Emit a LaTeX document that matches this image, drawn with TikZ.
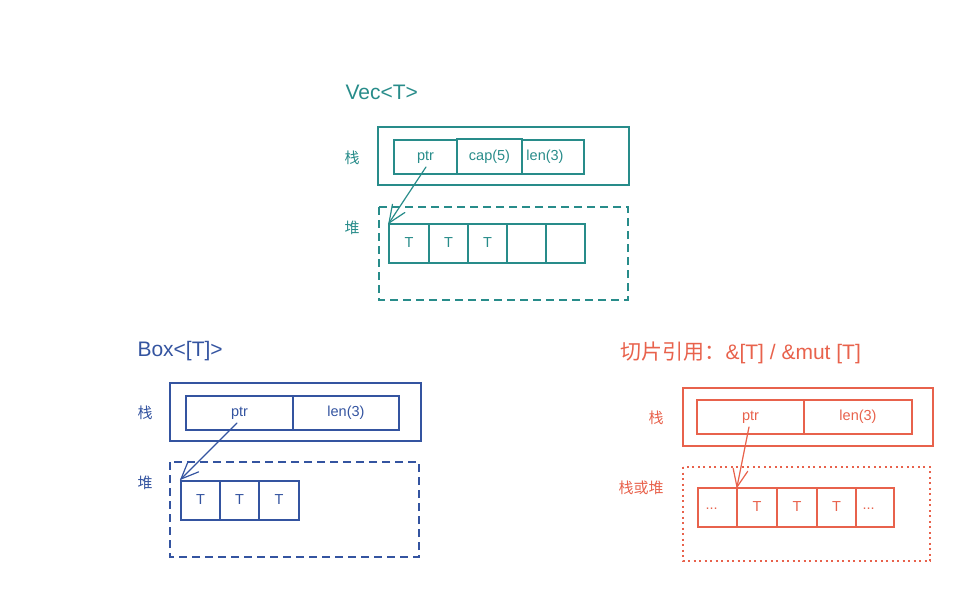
\documentclass[tikz,border=0pt]{standalone}
\usepackage{fontspec}
\setmainfont{Liberation Sans}
\newfontfamily\cjk{Noto Sans CJK SC}
\usetikzlibrary{calc}
\definecolor{tealc}{RGB}{40,140,138}
\definecolor{bluec}{RGB}{52,84,160}
\definecolor{redc}{RGB}{232,98,76}
\tikzset{
  frame/.style={draw, line width=1.5pt},
  cell/.style={draw, line width=1.5pt},
  heapbox/.style={draw, line width=1.5pt, dash pattern=on 8pt off 5pt},
  dotbox/.style={draw, line width=1.6pt, dash pattern=on 2pt off 3.5pt},
  ptrline/.style={line width=1.2pt, line cap=round},
  celltext/.style={font=\fontsize{14.5}{16}\selectfont},
  sidetext/.style={font=\cjk\fontsize{15}{17}\selectfont},
  titletext/.style={font=\fontsize{21}{24}\selectfont, anchor=west}
}
\newcommand\myptr[2]{%
  \draw[ptrline] (#1) -- (#2);
  \draw[ptrline] ($(#2)!19pt!23:(#1)$) -- (#2) -- ($(#2)!19pt!-23:(#1)$);
}
\begin{document}
\begin{tikzpicture}[x=1pt,y=-1pt]
\useasboundingbox (0,0) rectangle (974,591);
% ---------------- Vec<T> ----------------
\begin{scope}[color=tealc]
\node[titletext, text=tealc] (vt) at (342,92) {Vec<T>};
\draw[frame] (378,127) rectangle (629,185);
\node[sidetext, text=tealc] (vs) at (352,158) {栈};
\node[sidetext, text=tealc] (vh) at (352,228) {堆};
\draw[cell] (394,140) rectangle (457,174);
\draw[cell] (457,139) rectangle (522,174);
\draw[cell] (522,140) rectangle (584,174);
\node[celltext, text=tealc] (vptr) at (425.5,157) {ptr};
\node[celltext, text=tealc] (vcap) at (489.5,157) {cap(5)};
\node[celltext, text=tealc] (vlen) at (545,157) {len(3)};
\draw[heapbox] (379,207) rectangle (628,300);
\foreach \a/\b/\t [count=\i] in {389/429/T,429/468/T,468/507/T,507/546/,546/585/}{
  \draw[cell] (\a,224) rectangle (\b,263);
  \node[celltext, text=tealc] (vc\i) at ({(\a+\b)/2},243) {\t};
}
\coordinate (vs0) at (426,167);
\coordinate (vtip) at (389,223);
\myptr{vs0}{vtip}
\end{scope}
% ---------------- Box<[T]> ----------------
\begin{scope}[color=bluec]
\node[titletext, text=bluec] (bt) at (134,351) {Box<[T]>};
\draw[frame] (170,383) rectangle (421,441);
\node[sidetext, text=bluec] (bs) at (145,413) {栈};
\node[sidetext, text=bluec] (bh) at (145,483) {堆};
\draw[cell] (186,396) rectangle (293,430);
\draw[cell] (293,396) rectangle (399,430);
\node[celltext, text=bluec] (bptr) at (239.5,413) {ptr};
\node[celltext, text=bluec] (blen) at (346,413) {len(3)};
\draw[heapbox] (170,462) rectangle (419,557);
\foreach \a/\b [count=\i] in {181/220,220/259,259/299}{
  \draw[cell] (\a,481) rectangle (\b,520);
  \node[celltext, text=bluec] (bc\i) at ({(\a+\b)/2},500) {T};
}
\coordinate (bs0) at (237,423);
\coordinate (btip) at (181,479);
\myptr{bs0}{btip}
\end{scope}
% ---------------- slice ----------------
\begin{scope}[color=redc]
\node[titletext, text=redc] (st) at (617,353) {{\cjk 切片引用：}\&[T] / \&mut [T]};
\draw[frame] (683,388) rectangle (933,446);
\node[sidetext, text=redc] (ss) at (656,418) {栈};
\node[sidetext, text=redc] (sh) at (641,488) {栈或堆};
\draw[cell] (697,400) rectangle (804,434);
\draw[cell] (804,400) rectangle (912,434);
\node[celltext, text=redc] (sptr) at (750.5,417) {ptr};
\node[celltext, text=redc] (slen) at (858,417) {len(3)};
\draw[dotbox] (683,467) rectangle (930,561);
\foreach \a/\b in {698/737,737/777,777/817,817/856,856/894}{
  \draw[cell] (\a,488) rectangle (\b,527);
}
\node[celltext, text=redc, anchor=west] (sc1) at (702,509) {...};
\node[celltext, text=redc] (sc2) at (757,507) {T};
\node[celltext, text=redc] (sc3) at (797,507) {T};
\node[celltext, text=redc] (sc4) at (836.5,507) {T};
\node[celltext, text=redc, anchor=west] (sc5) at (859,509) {...};
\coordinate (ss0) at (749,427);
\coordinate (stip) at (737,487);
\myptr{ss0}{stip}
\end{scope}
\end{tikzpicture}
\end{document}
